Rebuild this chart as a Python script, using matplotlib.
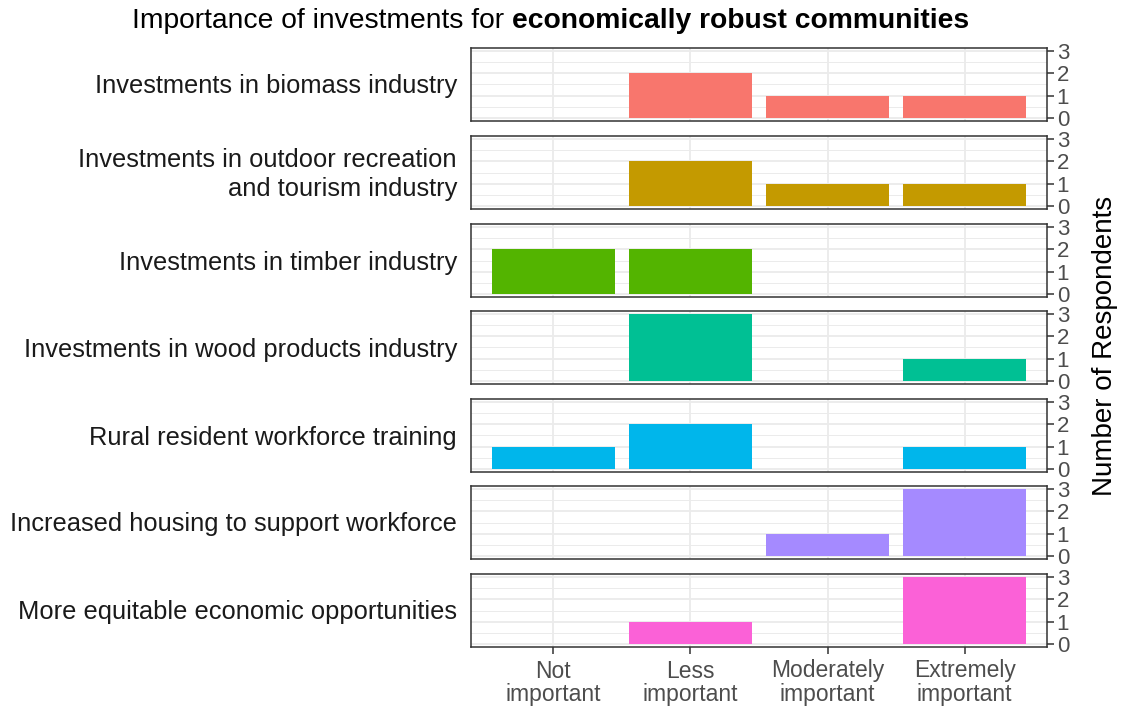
import numpy as np
import matplotlib as mpl
mpl.use('Agg')
import matplotlib.pyplot as plt

plt.rcParams['font.family'] = ['Liberation Sans', 'DejaVu Sans']

#categories and counts per facet
aCategory = ['Not\nimportant', 'Less\nimportant', 'Moderately\nimportant', 'Extremely\nimportant']
aFacet = ['Investments in biomass industry',
          'Investments in outdoor recreation\nand tourism industry',
          'Investments in timber industry',
          'Investments in wood products industry',
          'Rural resident workforce training',
          'Increased housing to support workforce',
          'More equitable economic opportunities']
aBiomass = [0, 2, 1, 1]
aOutdoor = [0, 2, 1, 1]
aTimber = [2, 2, 0, 0]
aWood = [0, 3, 0, 1]
aWorkforce = [1, 2, 0, 1]
aHousing = [0, 0, 1, 3]
aEquitable = [0, 1, 0, 3]
aColor = ['#F8766D', '#C49A00', '#53B400', '#00C094', '#00B6EB', '#A58AFF', '#FB61D7']

aData = [aBiomass, aOutdoor, aTimber, aWood, aWorkforce, aHousing, aEquitable]

W, H = 1127, 711
fig = plt.figure(figsize=(W / 100, H / 100), dpi=100)

#panel top/bottom in pixels
aTop = [48, 136, 224, 311, 399, 486, 574]
dPanel_h = 73
dLeft, dRight = 471, 1047

x = np.arange(1, 5)
for i in range(7):
    dBottom = aTop[i] + dPanel_h
    ax = fig.add_axes([dLeft / W, 1 - dBottom / H, (dRight - dLeft) / W, dPanel_h / H])
    aValue = aData[i]
    ax.bar(x, aValue, width=0.9, color=aColor[i], zorder=3)
    ax.set_xlim(0.4, 4.6)
    ax.set_ylim(-0.15, 3.15)
    ax.set_yticks([0, 1, 2, 3])
    ax.set_yticks([0.5, 1.5, 2.5], minor=True)
    ax.set_xticks(x)
    ax.yaxis.tick_right()
    ax.grid(which='major', color='#EBEBEB', linewidth=1.3, zorder=0)
    ax.grid(which='minor', axis='y', color='#EBEBEB', linewidth=0.7, zorder=0)
    ax.tick_params(axis='y', which='major', labelsize=16, labelcolor='#4D4D4D',
                   color='#333333', length=5, width=1.1, pad=2)
    ax.tick_params(axis='y', which='minor', length=0)
    for s in ax.spines.values():
        s.set_color('#333333')
        s.set_linewidth(1.1)
    if i == 6:
        ax.set_xticklabels(aCategory, fontsize=16.5, color='#4D4D4D', linespacing=1.0)
        ax.tick_params(axis='x', color='#333333', length=5, width=1.1, pad=4)
    else:
        ax.tick_params(axis='x', length=0, labelbottom=False)
    #facet label on the left
    fig.text((dLeft - 14) / W, 1 - (aTop[i] + dPanel_h / 2 + 2) / H, aFacet[i],
             ha='right', va='center', fontsize=18.4, color='#1A1A1A', linespacing=1.25)

fig.text(1105 / W, 1 - 346 / H, 'Number of Respondents', rotation=90,
         ha='center', va='center', fontsize=20, color='black')

#title with bold part
sNormal = 'Importance of investments for '
sBold = 'economically robust communities'
dTitle_y = 1 - 21 / H
t1 = fig.text(0, dTitle_y, sNormal, fontsize=20.3, va='center', ha='left')
t2 = fig.text(0, dTitle_y, sBold, fontsize=20.3, fontweight='bold', va='center', ha='left')
fig.canvas.draw()
r = fig.canvas.get_renderer()
w1 = t1.get_window_extent(r).width
w2 = t2.get_window_extent(r).width
dStart = 551 - (w1 + w2) / 2
t1.set_x(dStart / W)
t2.set_x((dStart + w1) / W)

plt.savefig('out.png', dpi=100)
